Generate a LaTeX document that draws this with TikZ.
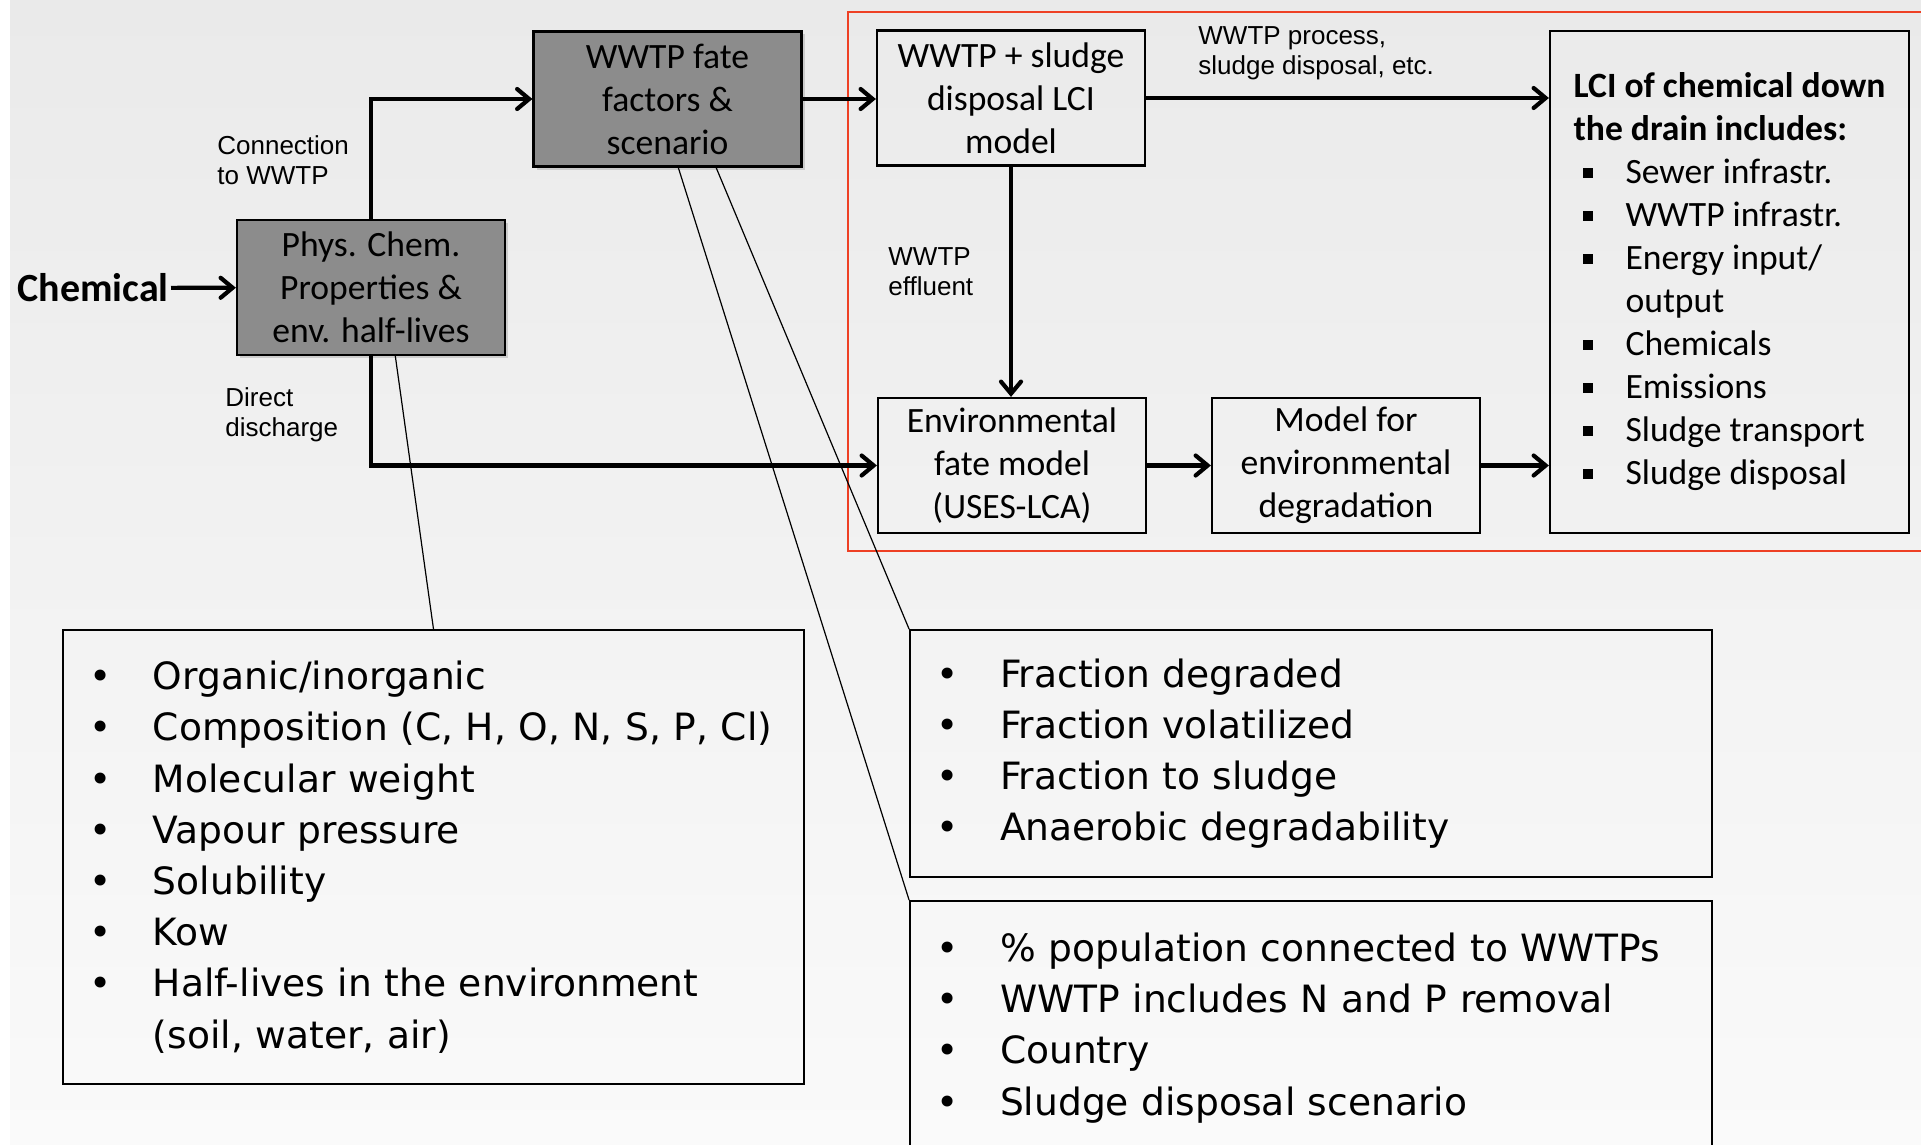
\documentclass[tikz,border=0pt]{standalone}
\usepackage{fontspec}
\setmainfont{Carlito}
\newfontfamily\notefont{Liberation Sans}
\newfontfamily\listfont{DejaVu Sans}
\usetikzlibrary{arrows.meta,calc,shadows}
\definecolor{framered}{RGB}{238,64,36}
\definecolor{boxgrey}{RGB}{140,140,140}
\definecolor{bgtop}{RGB}{234,234,234}
\definecolor{bgbottom}{RGB}{250,250,250}
\tikzset{wwtp edge/.style={-{Straight Barb[length=6pt,width=10pt,line cap=round]}, line width=2.1pt}}
\tikzset{wwtp box/.style={draw=black, line width=1.1pt, align=center, inner sep=2pt, minimum width=134pt, minimum height=67.5pt, font=\fontsize{17.8}{21.5}\selectfont}}
\tikzset{wwtp shade/.style={wwtp box, fill=boxgrey, drop shadow={opacity=0.3, shadow xshift=1.5pt, shadow yshift=-1.5pt}}}
\tikzset{wwtp note/.style={align=left, anchor=west, inner sep=0pt, font=\notefont\fontsize{13}{15}\selectfont}}
\tikzset{wwtp list/.style={draw=black, line width=0.9pt, align=left, inner xsep=13pt, inner ysep=0pt, font=\listfont\fontsize{18.8}{25.6}\selectfont}}
\tikzset{wwtp link/.style={line width=0.6pt}}
\newcommand{\dotitem}{\makebox[32pt][l]{\textbullet}}
\newcommand{\sqitem}{\hspace*{4.5pt}\rule[3pt]{5pt}{5pt}\hspace*{16.5pt}}

\begin{document}
\begin{tikzpicture}[x=0.5pt,y=-0.5pt]
		\useasboundingbox (0,0) rectangle (1921,1145);
		\clip (0,0) rectangle (1921,1145);
		\fill[white] (0,0) rectangle (1921,1145);
		\shade[top color=bgtop, bottom color=bgbottom] (10,0) rectangle (1921,1145);

		\draw[framered, line width=1pt] (848,12) rectangle (1930,551);

		\node[font=\bfseries\fontsize{20}{24}\selectfont, anchor=east, inner sep=1pt] (chem) at (171,288) {Chemical};
		\node[wwtp shade] (phys) at (371,287.5) {Phys. Chem.\\Properties \&\\env. half-lives};
		\node[wwtp shade] (fate) at (667.5,99) {WWTP fate\\factors \&\\scenario};
		\node[wwtp box] (lcimodel) at (1011,98) {WWTP + sludge\\disposal LCI\\model};
		\node[wwtp box] (envfate) at (1012,465.5) {Environmental\\fate model\\(USES-LCA)};
		\node[wwtp box] (degr) at (1346,465.5) {Model for\\environmental\\degradation};
		\node[wwtp box, align=left, minimum width=179.5pt, minimum height=251pt] (lci) at (1729.5,282) {\textbf{LCI of chemical down}\\\textbf{the drain includes:}\\\sqitem Sewer infrastr.\\\sqitem WWTP infrastr.\\\sqitem Energy input/\\\hspace*{26pt}output\\\sqitem Chemicals\\\sqitem Emissions\\\sqitem Sludge transport\\\sqitem Sludge disposal};

		\node[wwtp note] (conn) at (217,160) {Connection\\to WWTP};
		\node[wwtp note] (direct) at (225,415) {Direct\\discharge};
		\node[wwtp note] (effl) at (888,272) {WWTP\\effluent};
		\node[wwtp note] (proc) at (1198,53) {WWTP process,\\sludge disposal, etc.};

		\draw[wwtp edge] (chem) -- (phys);
		\draw[wwtp edge] (phys.north) |- (fate.west);
		\draw[wwtp edge] (phys.south) |- (envfate.west);
		\draw[wwtp edge] (fate.east) -- (fate.east -| lcimodel.west);
		\draw[wwtp edge] (lcimodel.east) -- (lcimodel.east -| lci.west);
		\draw[wwtp edge] (lcimodel.south) -- (lcimodel.south |- envfate.north);
		\draw[wwtp edge] (envfate) -- (degr);
		\draw[wwtp edge] (degr.east) -- (degr.east -| lci.west);

		\node[wwtp list, text width=344.5pt, minimum height=227pt] (props) at (433.5,857) {\dotitem Organic/inorganic\\\dotitem Composition (C, H, O, N, S, P, Cl)\\\dotitem Molecular weight\\\dotitem Vapour pressure\\\dotitem Solubility\\\dotitem Kow\\\dotitem Half-lives in the environment\\\hspace*{32pt}(soil, water, air)};
		\node[wwtp list, text width=375pt, minimum height=123.5pt] (wwtpfac) at (1311,753.5) {\dotitem Fraction degraded\\\dotitem Fraction volatilized\\\dotitem Fraction to sludge\\\dotitem Anaerobic degradability};
		\node[wwtp list, text width=375pt, minimum height=127pt] (scen) at (1311,1028) {\dotitem \% population connected to WWTPs\\\dotitem WWTP includes N and P removal\\\dotitem Country\\\dotitem Sludge disposal scenario};

		\draw[wwtp link] ($(phys.south west)!0.59!(phys.south east)$) -- (props.north);
		\draw[wwtp link] ($(fate.south west)!0.68!(fate.south east)$) -- (wwtpfac.north west);
		\draw[wwtp link] ($(fate.south west)!0.54!(fate.south east)$) -- (scen.north west);
	\end{tikzpicture}
\end{document}
